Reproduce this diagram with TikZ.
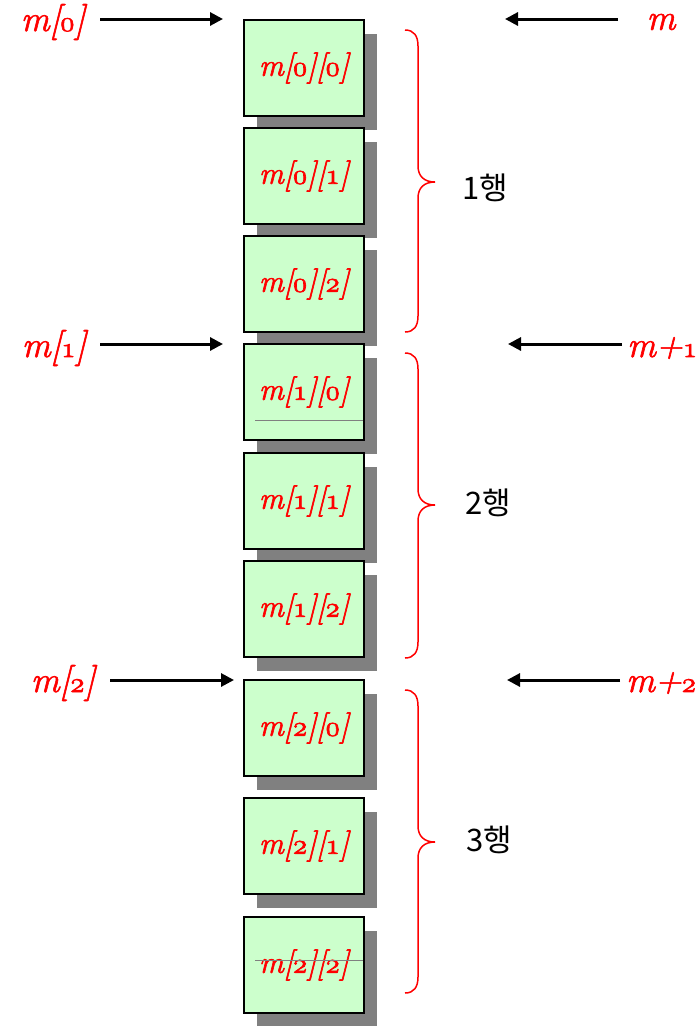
\documentclass[tikz,border=0pt]{standalone}
\usepackage{fontspec}
\newfontfamily\kr{Noto Sans CJK KR}
\usetikzlibrary{arrows.meta,shadows}
\definecolor{cellgreen}{RGB}{204,255,204}
\definecolor{shadowgray}{RGB}{128,128,128}
\newcommand\od[1]{\scalebox{1.15}{\usefont{OML}{cmm}{m}{it}#1}}
\newcommand\fb[1]{\special{pdf:literal 2 Tr 0.6 w}#1\special{pdf:literal 0 Tr}}
\newcommand\rowbrace[3]{%
  \draw[bracestyle] (405,#1) .. controls (414,#1) and (418,#1+6) .. (418,#1+16)
    -- (418,#2-16) .. controls (418,#2-6) and (424,#2) .. (435,#2)
    .. controls (424,#2) and (418,#2+6) .. (418,#2+16)
    -- (418,#3-16) .. controls (418,#3-6) and (414,#3) .. (405,#3);}
\begin{document}
\begin{tikzpicture}[x=1pt,y=-1pt,
  cell/.style={draw=black,line width=2.4pt,fill=cellgreen,
    minimum width=120pt,minimum height=96pt,inner sep=0pt,
    font=\fontsize{31}{33}\selectfont\itshape,text=red,
    drop shadow={shadow xshift=12.5pt,shadow yshift=-13.5pt,fill=shadowgray,draw=none,opacity=1}},
  lab/.style={font=\fontsize{36}{38}\selectfont\itshape,text=red,inner sep=0pt},
  rowlab/.style={font=\kr\fontsize{31}{33}\selectfont,text=black,inner sep=0pt},
  arr/.style={line width=3pt,-{Triangle[length=13pt,width=13pt]}},
  bracestyle/.style={draw=red,line width=1.5pt},
  artifact/.style={draw=shadowgray,line width=0.8pt}]
\useasboundingbox (0,0) rectangle (700,1026);

% cells
\node[cell] (c00) at (304,68)  {\fb{m[\od{0}][\od{0}]}};
\node[cell] (c01) at (304,176) {\fb{m[\od{0}][\od{1}]}};
\node[cell] (c02) at (304,284) {\fb{m[\od{0}][\od{2}]}};
\node[cell] (c10) at (304,392) {\fb{m[\od{1}][\od{0}]}};
\draw[artifact] (255,420) -- (363,420);
\node[cell] (c11) at (304,501) {\fb{m[\od{1}][\od{1}]}};
\node[cell] (c12) at (304,609) {\fb{m[\od{1}][\od{2}]}};
\node[cell] (c20) at (304,728) {\fb{m[\od{2}][\od{0}]}};
\node[cell] (c21) at (304,846) {\fb{m[\od{2}][\od{1}]}};
\node[cell] (c22) at (304,965) {\fb{m[\od{2}][\od{2}]}};
\draw[artifact] (255,960) -- (363,960);

% left labels and arrows
\node[lab] (l0) at (53,22)  {\fb{m[\od{0}]}};
\node[lab] (l1) at (54,348) {\fb{m[\od{1}]}};
\node[lab] (l2) at (63,683) {\fb{m[\od{2}]}};
\coordinate (ls0) at (100,19);  \coordinate (le0) at (223,19);
\coordinate (ls1) at (100,344); \coordinate (le1) at (223,344);
\coordinate (ls2) at (110,680); \coordinate (le2) at (234,680);
\draw[arr] (ls0) -- (le0);
\draw[arr] (ls1) -- (le1);
\draw[arr] (ls2) -- (le2);

% right labels and arrows
\node[lab] (r0) at (661,22)  {\fb{m}};
\node[lab] (r1) at (662,348) {\fb{m+\od{1}}};
\node[lab] (r2) at (661,683) {\fb{m+\od{2}}};
\coordinate (rs0) at (618,19);  \coordinate (re0) at (505,19);
\coordinate (rs1) at (622,344); \coordinate (re1) at (508,344);
\coordinate (rs2) at (620,680); \coordinate (re2) at (507,680);
\draw[arr] (rs0) -- (re0);
\draw[arr] (rs1) -- (re1);
\draw[arr] (rs2) -- (re2);

% braces
\rowbrace{30}{182}{332}
\rowbrace{353}{505}{658}
\rowbrace{690}{842}{993}

% row labels
\node[rowlab] (g1) at (485,188) {1행};
\node[rowlab] (g2) at (488,503) {2행};
\node[rowlab] (g3) at (489,840) {3행};
\end{tikzpicture}
\end{document}
